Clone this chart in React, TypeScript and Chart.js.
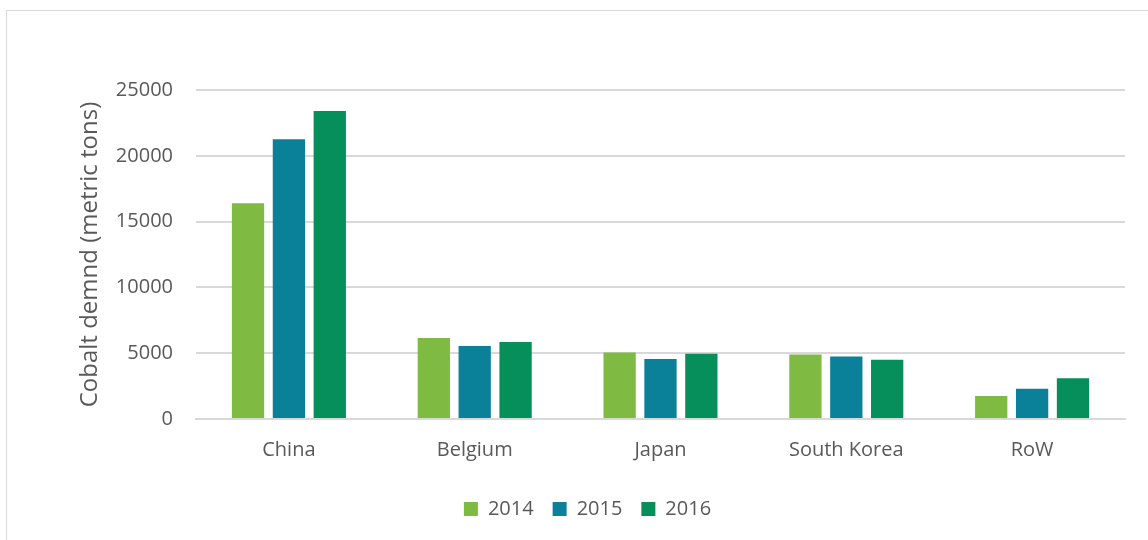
import React, { useEffect, useRef } from "react";
import { Chart, registerables } from "chart.js";

Chart.register(...registerables);

const categories = ["China", "Belgium", "Japan", "South Korea", "RoW"];
const seriesNames = ["2014", "2015", "2016"];
const values2014 = [16400, 6150, 5050, 4900, 1750];
const values2015 = [21250, 5550, 4550, 4750, 2300];
const values2016 = [23400, 5850, 4950, 4500, 3100];
const colors = ["#7fba42", "#0b8199", "#068f5a"];
const yTicks = [0, 5000, 10000, 15000, 20000, 25000];

const FONT = "'Open Sans', 'DejaVu Sans', sans-serif";

export default function App() {
  const ref = useRef<HTMLCanvasElement | null>(null);
  useEffect(() => {
    document.body.style.margin = "0";
    const ctx = ref.current!;
    const chart = new Chart(ctx, {
      type: "bar",
      data: {
        labels: categories,
        datasets: [values2014, values2015, values2016].map((d, i) => ({
          label: seriesNames[i],
          data: d,
          backgroundColor: colors[i],
          borderWidth: 0,
          barPercentage: 0.79,
          categoryPercentage: 0.66,
        })),
      },
      options: {
        animation: false,
        responsive: false,
        maintainAspectRatio: false,
        layout: { padding: { left: 50, top: 90, right: 23, bottom: 11 } },
        plugins: {
          tooltip: { enabled: false },
          legend: {
            position: "bottom",
            labels: {
              font: { family: FONT, size: 20 },
              color: "#595959",
              boxWidth: 14,
              boxHeight: 14,
              padding: 19,
            },
          },
        },
        scales: {
          x: {
            grid: { display: false },
            border: { display: true, color: "#d9d9d9", width: 2 },
            ticks: { font: { family: FONT, size: 20 }, color: "#595959", padding: 11 },
            afterFit: (s: any) => { s.height = 61; },
          },
          y: {
            min: 0,
            max: 25000,
            afterBuildTicks: (s: any) => { s.ticks = yTicks.map((v) => ({ value: v })); },
            grid: { color: "#d9d9d9", lineWidth: 2, drawTicks: false },
            border: { display: false },
            ticks: {
              font: { family: FONT, size: 20 },
              color: "#595959",
              padding: 23,
              callback: (v: any) => String(v),
            },
            title: {
              display: true,
              text: "Cobalt demnd (metric tons)",
              font: { family: FONT, size: 24 },
              color: "#595959",
              padding: { top: 26, bottom: 0 },
            },
            afterFit: (s: any) => { s.width = 146; },
          },
        },
      },
    });
    return () => chart.destroy();
  }, []);
  return (
    <div style={{ position: "relative", width: 1148, height: 540, overflow: "hidden", background: "#fff" }}>
      <div style={{ position: "absolute", left: 6, top: 10, width: 1200, height: 600, border: "1px solid #d9d9d9" }} />
      <canvas ref={ref} width={1148} height={540} style={{ position: "absolute", left: 0, top: 0 }} />
    </div>
  );
}
